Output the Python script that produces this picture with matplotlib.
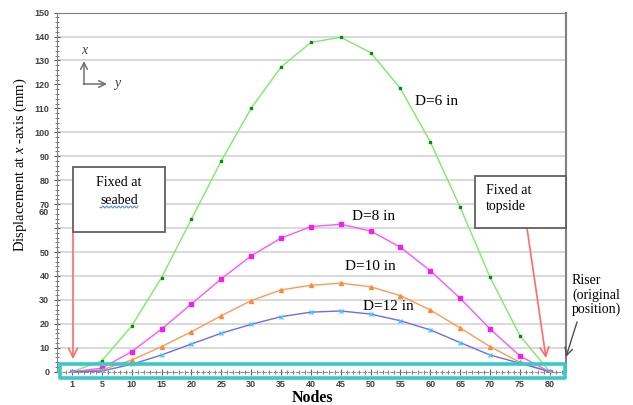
import numpy as np
import matplotlib
matplotlib.use("Agg")
import matplotlib.pyplot as plt
from matplotlib.patches import Rectangle
from matplotlib.ticker import MultipleLocator

plt.rcParams['mathtext.fontset'] = 'custom'
plt.rcParams['mathtext.it'] = 'Liberation Serif:italic'
plt.rcParams['mathtext.rm'] = 'Liberation Serif'

# node positions (markers every 5 nodes), first one is labelled "1"
nodes = [0, 5, 10, 15, 20, 25, 30, 35, 40, 45, 50, 55, 60, 65, 70, 75, 80]
tick_pos = [0, 5, 10, 15, 20, 25, 30, 35, 40, 45, 50, 55, 60, 65, 70, 75, 80]
tick_lbl = ['1', '5', '10', '15', '20', '25', '30', '35', '40', '45', '50',
            '55', '60', '65', '70', '75', '80']

d6 = [0, 4.5, 19.1, 39.3, 63.7, 88.0, 110.0, 127.2, 137.5, 139.7, 133.3,
      118.3, 96.0, 68.7, 39.5, 15.1, 0]
d8 = [0, 1.5, 8.4, 17.8, 28.3, 38.8, 48.4, 55.8, 60.6, 61.6, 58.8,
      52.0, 42.2, 30.7, 17.9, 6.6, 0]
d10 = [0, 0.8, 4.9, 10.5, 16.7, 23.4, 29.7, 34.2, 36.1, 37.0, 35.5,
       31.8, 25.8, 18.3, 10.5, 4.0, 0]
d12 = [0, 0.3, 3.1, 7.0, 11.6, 16.1, 19.8, 23.0, 24.9, 25.4, 24.1,
       21.3, 17.5, 12.2, 7.0, 3.6, 0]

grid_vals = [10, 20, 30, 40, 50, 60, 70, 80, 90, 100, 130, 140]

W, H = 633, 405


def fp(x, y):
    # pixel position -> figure fraction
    return x / W, 1 - y / H


fig = plt.figure(figsize=(6.33, 4.05), dpi=100)
ax = fig.add_axes([0.090, 0.082, 0.804, 0.887])

for g in grid_vals:
    ax.axhline(g, color='#d9d9d9', lw=1.4, zorder=0)

ax.plot(nodes, d6, color='#7aee66', lw=1.0, marker='s', ms=1.8,
        mfc='#0a8a0a', mec='#0a8a0a', zorder=3)
ax.plot(nodes, d8, color='#ff55ff', lw=1.0, marker='s', ms=2.4,
        mfc='#ee22ee', mec='#ee22ee', zorder=3)
ax.plot(nodes, d10, color='#ff9a55', lw=1.0, marker='^', ms=2.8,
        mfc='#ff8833', mec='#ff8833', zorder=3)
ax.plot(nodes, d12, color='#6b6bf5', lw=1.0, marker='x', ms=3.2, mew=0.9,
        mfc='#33ccff', mec='#33ccff', zorder=3)

ax.set_xlim(-2.5, 82.7)
ax.set_ylim(0, 150)

ax.set_xticks(tick_pos)
ax.set_xticklabels(tick_lbl)
ax.xaxis.set_minor_locator(MultipleLocator(1))
ax.set_yticks(np.arange(0, 151, 10))
ax.set_yticklabels(['' if v == 60 else str(v) for v in range(0, 151, 10)])
ax.yaxis.set_minor_locator(MultipleLocator(2))

ax.tick_params(axis='both', which='major', labelsize=6.5, labelcolor='#404040',
               color='#606060', direction='inout', length=4)
ax.tick_params(axis='both', which='minor', color='#606060', direction='inout',
               length=2.5)
ax.tick_params(axis='x', pad=4)
for lb in ax.get_xticklabels() + ax.get_yticklabels():
    lb.set_fontweight('bold')
    lb.set_family('Liberation Sans')

# hand placed "60" label, as in the source figure
ax.text(-3.9, 66.5, '60', ha='right', va='center', fontsize=6.5,
        color='#404040', fontweight='bold', family='Liberation Sans')

for s in ['left', 'top', 'right']:
    ax.spines[s].set_color('#808080')
ax.spines['right'].set_linewidth(1.5)
ax.spines['bottom'].set_color('#909090')
ax.spines['bottom'].set_linestyle((0, (3, 2)))

# cyan highlight of the riser axis
ax.add_patch(Rectangle((-2.0, -2.6), 84.5, 5.9, fill=False, ec='#3cc8c8',
                       lw=2.6, joinstyle='round', clip_on=False, zorder=6))

serif = 'Liberation Serif'
ax.text(*fp(312, 398), 'Nodes', transform=fig.transFigure, ha='center',
        va='center', fontsize=11.5, fontweight='bold', family=serif)
fig.text(20 / W, 1 - 165 / H, r'Displacement at $\mathit{x}$ -axis (mm)',
         rotation=90, ha='center', va='center', fontsize=10.5, family=serif)

# curve labels
ax.text(*fp(437, 102), 'D=6 in', transform=fig.transFigure, ha='center',
        va='center', fontsize=11, family=serif)
ax.text(*fp(374, 217), 'D=8 in', transform=fig.transFigure, ha='center',
        va='center', fontsize=11, family=serif)
ax.text(*fp(370, 267), 'D=10 in', transform=fig.transFigure, ha='center',
        va='center', fontsize=11, family=serif)
ax.text(*fp(388, 307), 'D=12 in', transform=fig.transFigure, ha='center',
        va='center', fontsize=11, family=serif)

# x / y direction sketch
ax.text(*fp(84, 50), 'x', transform=fig.transFigure, ha='center', va='center',
        fontsize=10, style='italic', family=serif, color='#404040')
ax.text(*fp(117, 83), 'y', transform=fig.transFigure, ha='center', va='center',
        fontsize=10, style='italic', family=serif, color='#404040')
ax.annotate('', xy=fp(84, 61), xytext=fp(84, 84.5), xycoords='figure fraction',
            arrowprops=dict(arrowstyle='->', color='#707070', lw=1.1,
                            shrinkA=0, shrinkB=0, mutation_scale=12))
ax.annotate('', xy=fp(107, 84), xytext=fp(83.5, 84), xycoords='figure fraction',
            arrowprops=dict(arrowstyle='->', color='#707070', lw=1.1,
                            shrinkA=0, shrinkB=0, mutation_scale=12))

# boxes
x0, y0 = fp(73, 232)
ax.add_patch(Rectangle((x0, y0), 92 / W, 65 / H, transform=fig.transFigure,
                       fc='white', ec='#606060', lw=1.3, zorder=7, clip_on=False))
ax.text(*fp(119, 183), 'Fixed at', transform=fig.transFigure, ha='center',
        va='center', fontsize=10, family=serif, zorder=8)
ax.text(*fp(119, 200), 'seabed', transform=fig.transFigure, ha='center',
        va='center', fontsize=10, family=serif, zorder=8)
wx = np.linspace(100, 138, 60)
wy = 207 + 1.0 * np.sin((wx - 100) * 1.6)
ax.plot(wx / W, 1 - wy / H, color='#4a7fdc', lw=0.7,
        transform=fig.transFigure, zorder=8, clip_on=False)

x0, y0 = fp(475, 228)
ax.add_patch(Rectangle((x0, y0), 91 / W, 52 / H, transform=fig.transFigure,
                       fc='white', ec='#606060', lw=1.3, zorder=7, clip_on=False))
ax.text(*fp(486, 190), 'Fixed at', transform=fig.transFigure, ha='left',
        va='center', fontsize=10, family=serif, zorder=8)
ax.text(*fp(486, 207), 'topside', transform=fig.transFigure, ha='left',
        va='center', fontsize=10, family=serif, zorder=8)

ax.text(*fp(572, 295), 'Riser\n(original\nposition)', transform=fig.transFigure,
        ha='left', va='center', fontsize=10, family=serif, linespacing=1.05)

# arrows
ax.annotate('', xy=fp(73, 359), xytext=fp(73, 232), xycoords='figure fraction',
            arrowprops=dict(arrowstyle='->', color='#ff6a6a', lw=1.2,
                            shrinkA=0, shrinkB=0, mutation_scale=16), zorder=6)
ax.annotate('', xy=fp(546, 358), xytext=fp(527, 228), xycoords='figure fraction',
            arrowprops=dict(arrowstyle='->', color='#ff6a6a', lw=1.2,
                            shrinkA=0, shrinkB=0, mutation_scale=16), zorder=6)
ax.annotate('', xy=fp(566, 357), xytext=fp(577, 322), xycoords='figure fraction',
            arrowprops=dict(arrowstyle='->', color='#505050', lw=1.0,
                            shrinkA=0, shrinkB=0, mutation_scale=14), zorder=6)

fig.savefig('out.png', dpi=100)
